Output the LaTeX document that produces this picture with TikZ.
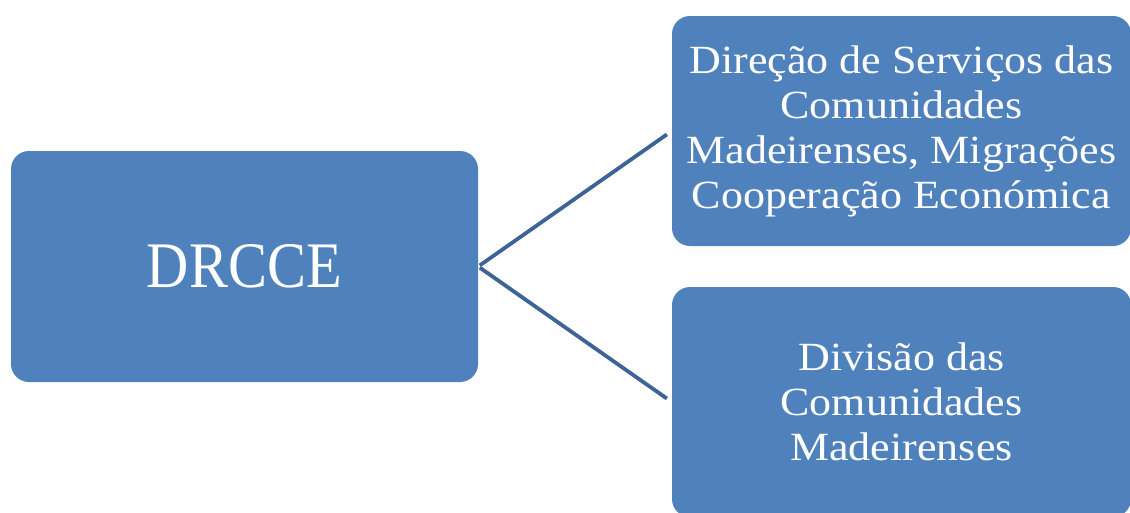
\documentclass[tikz,border=0pt]{standalone}
\usepackage{fontspec}
\setmainfont{Liberation Serif}
\newfontfamily\widefont[FakeStretch=1.1]{Liberation Serif}
\newfontfamily\narrowfont[FakeStretch=0.9]{Liberation Serif}
\definecolor{boxfill}{HTML}{4F81BD}
\definecolor{linecol}{HTML}{3C6496}
\begin{document}
\begin{tikzpicture}[x=1pt,y=-1pt,
  box/.style={fill=boxfill, draw=none, rounded corners=18pt, text=white, align=center, inner sep=0pt},
  conn/.style={draw=linecol, line width=3.8pt, shorten >=6pt, shorten <=2pt}]
\clip (0,0) rectangle (1130,512);
\fill[white] (0,0) rectangle (1130,512);
\node[box, minimum width=467pt, minimum height=231pt, font=\narrowfont\fontsize{65}{75}\selectfont] (a) at (244.5,266.5) {DRCCE};
\node[box, minimum width=459pt, minimum height=230pt, font=\widefont\fontsize{40}{45}\selectfont] (b) at (901.5,131) {Direção de Serviços das\\Comunidades\\Madeirenses, Migrações\\Cooperação Económica};
\node[box, minimum width=459pt, minimum height=230pt, font=\widefont\fontsize{40}{45}\selectfont] (c) at (901.5,402) {Divisão das\\Comunidades\\Madeirenses};
\draw[conn] (a.east) -- (b.west);
\draw[conn] (a.east) -- (c.west);
\end{tikzpicture}
\end{document}
